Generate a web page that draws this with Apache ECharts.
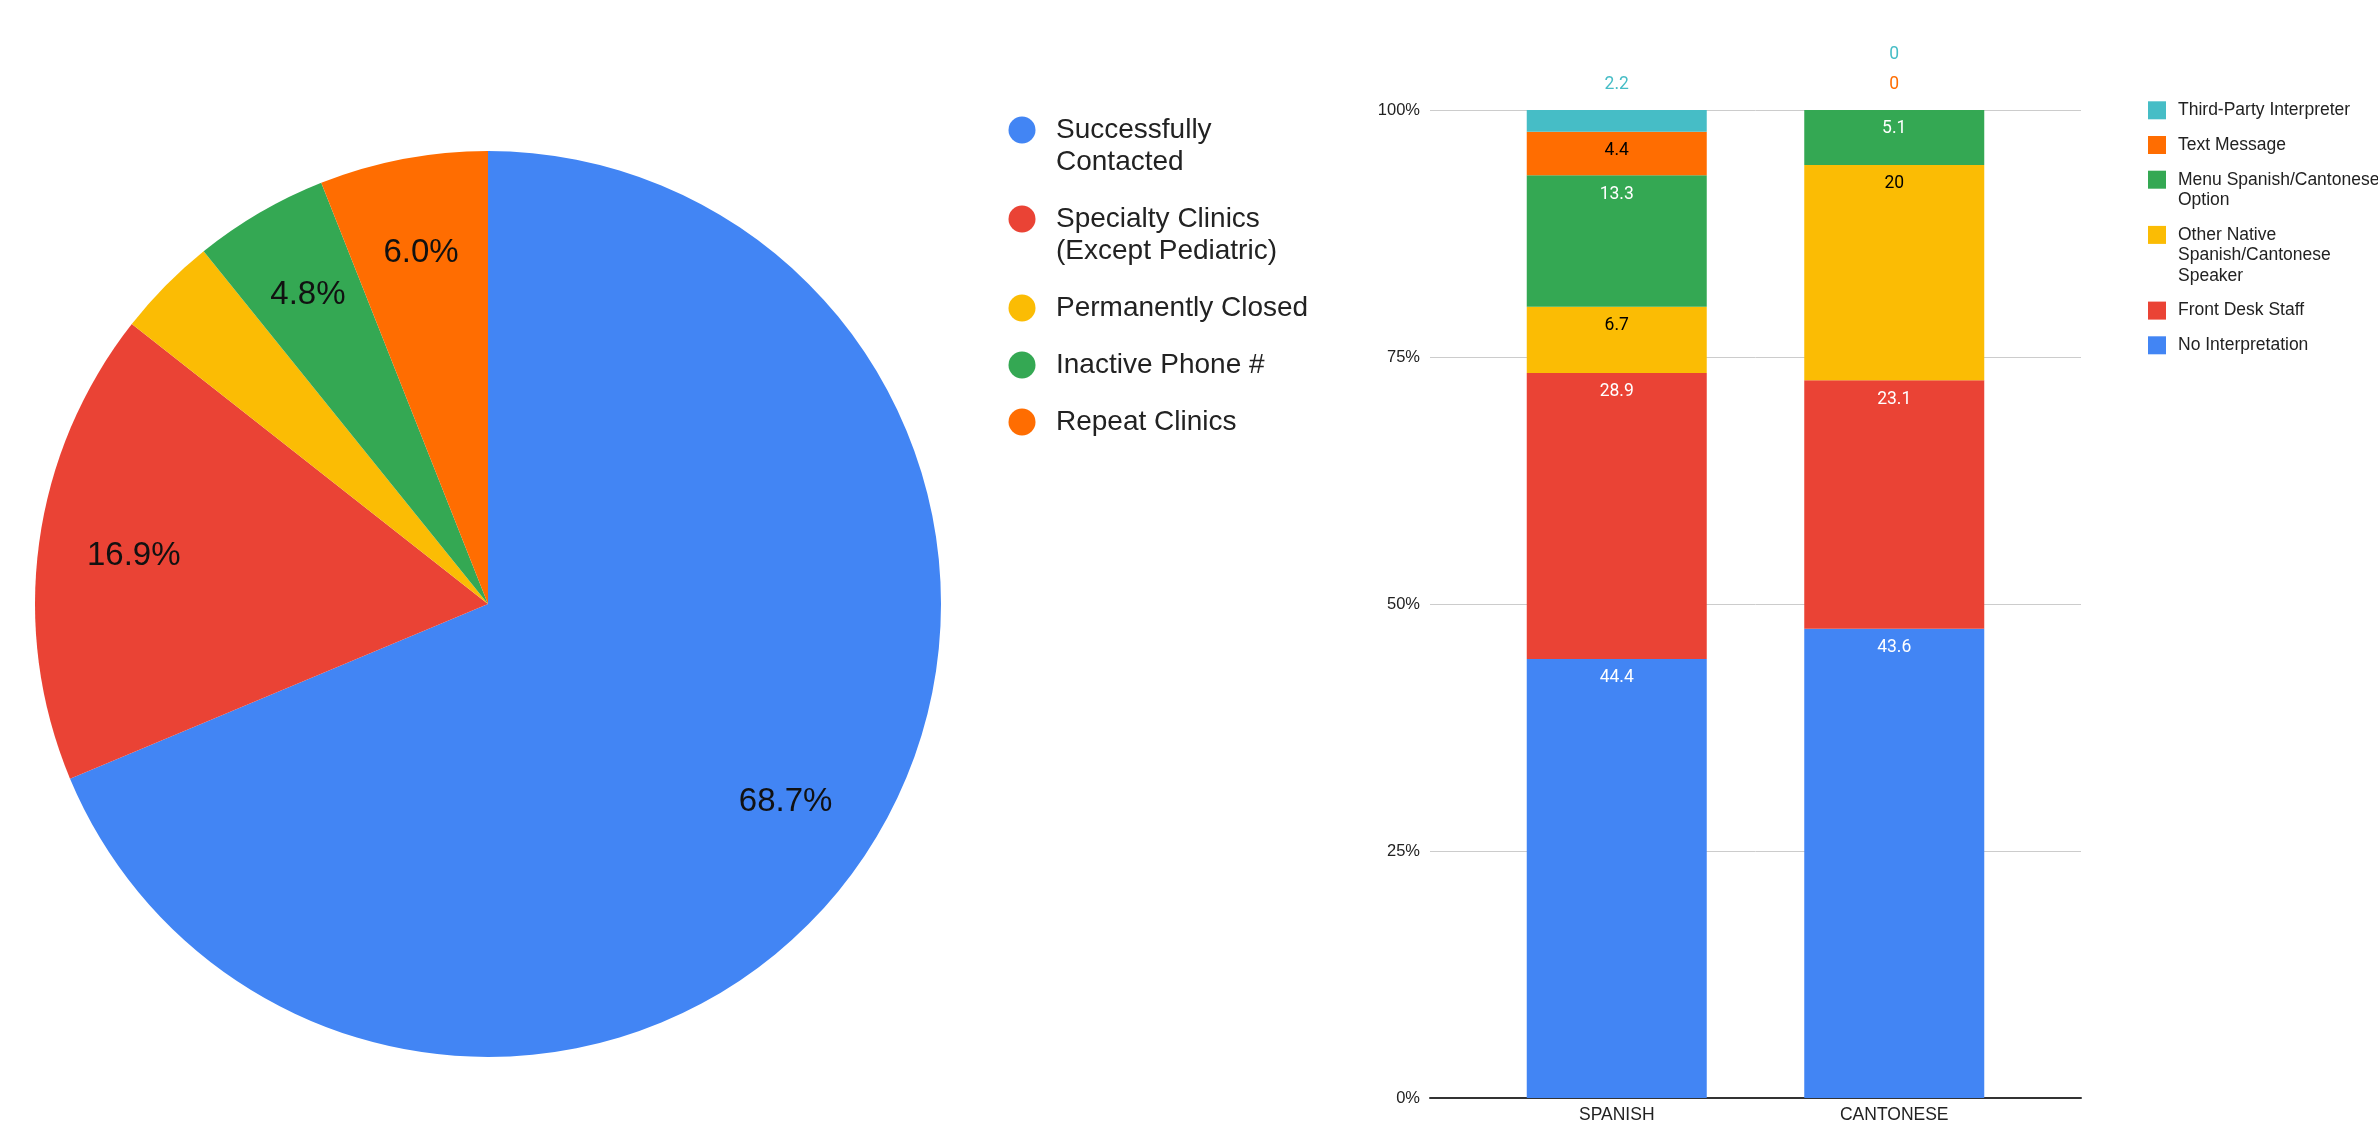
<!DOCTYPE html>
<html>
<head>
<meta charset="utf-8">
<title>Clinic outreach and interpretation methods</title>
<script src="https://cdn.jsdelivr.net/npm/echarts@6/dist/echarts.min.js"></script>
<style>
  html, body { margin: 0; padding: 0; background: #ffffff; }
  #chart { width: 2378px; height: 1123px; }
</style>
</head>
<body>
<div id="chart"></div>
<script>
// ---- Call outcomes (pie) ----
const outcomeNames = [
  'Successfully Contacted',
  'Specialty Clinics (Except Pediatric)',
  'Permanently Closed',
  'Inactive Phone #',
  'Repeat Clinics'
];
const outcomeLegendLines = [
  ['Successfully', 'Contacted'],
  ['Specialty Clinics', '(Except Pediatric)'],
  ['Permanently Closed'],
  ['Inactive Phone #'],
  ['Repeat Clinics']
];
const outcomeShares = [68.7, 16.9, 3.6, 4.8, 6.0];
const outcomeColors = ['#4285F4', '#EA4335', '#FBBC04', '#34A853', '#FF6D01'];

// ---- Interpretation method by language (100% stacked bars) ----
const languages = ['SPANISH', 'CANTONESE'];
const methodNames = [
  'No Interpretation',
  'Front Desk Staff',
  'Other Native Spanish/Cantonese Speaker',
  'Menu Spanish/Cantonese Option',
  'Text Message',
  'Third-Party Interpreter'
];
const methodLegendLines = [
  ['No Interpretation'],
  ['Front Desk Staff'],
  ['Other Native', 'Spanish/Cantonese', 'Speaker'],
  ['Menu Spanish/Cantonese', 'Option'],
  ['Text Message'],
  ['Third-Party Interpreter']
];
const noInterpretation = [44.4, 43.6];
const frontDeskStaff = [28.9, 23.1];
const otherNativeSpeaker = [6.7, 20];
const menuOption = [13.3, 5.1];
const textMessage = [4.4, 0];
const thirdPartyInterpreter = [2.2, 0];
const methodValues = [noInterpretation, frontDeskStaff, otherNativeSpeaker, menuOption, textMessage, thirdPartyInterpreter];
const methodColors = ['#4285F4', '#EA4335', '#FBBC04', '#34A853', '#FF6D01', '#46BDC6'];
const methodLabelColors = ['#ffffff', '#ffffff', '#000000', '#ffffff', '#000000', '#ffffff'];
const percentTicks = [0, 25, 50, 75, 100];

const SANS = "'Liberation Sans', Arial, Helvetica, sans-serif";
const LABEL_FONT = "Roboto, 'Liberation Sans', Arial, sans-serif";

// Each bar is shown as a share of its own total (100% stacked).
const totals = languages.map((_, ci) => methodValues.reduce((s, arr) => s + arr[ci], 0));
const shares = methodValues.map(arr => arr.map((v, ci) => v / totals[ci] * 100));

// Segments too thin for an inside label get it stacked above the bar instead.
const THIN_SEGMENT = 3;
const OUTSIDE_FIRST = 16;
const OUTSIDE_STEP = 29.4;
const outsideCount = languages.map(() => 0);
const runningTop = languages.map(() => 0);

const barSeries = methodNames.map((name, si) => {
  const outside = [];
  const data = shares[si].map((share, ci) => {
    runningTop[ci] += share;
    const item = { value: share, raw: methodValues[si][ci] };
    if (share < THIN_SEGMENT) {
      item.label = { show: false };
      outside.push({
        // keep the anchor inside the 0–100 axis extent despite float rounding
        coord: [languages[ci], Math.min(runningTop[ci], 100)],
        value: methodValues[si][ci],
        label: { distance: OUTSIDE_FIRST + OUTSIDE_STEP * outsideCount[ci] }
      });
      outsideCount[ci] += 1;
    }
    return item;
  });
  return {
    name: name,
    type: 'bar',
    stack: 'share',
    xAxisIndex: 1,
    yAxisIndex: 1,
    barWidth: 180,
    itemStyle: { color: methodColors[si] },
    label: {
      show: true,
      position: 'insideTop',
      distance: 10,
      color: methodLabelColors[si],
      fontFamily: LABEL_FONT,
      fontSize: 17.5,
      formatter: p => String(p.data.raw)
    },
    markPoint: {
      silent: true,
      symbol: 'circle',
      symbolSize: 1,
      itemStyle: { color: 'rgba(0,0,0,0)' },
      label: {
        show: true,
        position: 'top',
        color: methodColors[si],
        fontFamily: LABEL_FONT,
        fontSize: 17.5,
        formatter: p => String(p.value)
      },
      data: outside
    },
    data: data
  };
});

// Vertical legends whose marker lines up with the first text line of each entry:
// blank lines above the text keep the first line on the marker's centre.
function entryLegends(names, lines, o) {
  let center = o.firstCenter;
  return names.map((name, i) => {
    const n = lines[i].length;
    const text = '\n'.repeat(n - 1) + lines[i].join('\n');
    const legend = {
      left: o.left,
      top: center - (2 * n - 1) * o.lineHeight / 2,
      orient: 'vertical',
      padding: 0,
      itemGap: 0,
      icon: o.icon,
      itemWidth: o.iconW,
      itemHeight: o.iconH,
      selectedMode: false,
      data: [name],
      formatter: () => text,
      textStyle: {
        fontFamily: SANS,
        fontSize: o.fontSize,
        lineHeight: o.lineHeight,
        color: '#222222',
        padding: [0, 0, 0, o.textPad],
        backgroundColor: 'transparent'
      }
    };
    center += n * o.lineHeight + o.gap;
    return legend;
  });
}

const pieLegends = entryLegends(outcomeNames, outcomeLegendLines, {
  left: 1008.5, firstCenter: 130, lineHeight: 32, gap: 25,
  icon: 'circle', iconW: 58, iconH: 27, fontSize: 28, textPad: 0
});

const barOrder = methodNames.map((_, i) => i).reverse();
const barLegends = entryLegends(
  barOrder.map(i => methodNames[i]),
  barOrder.map(i => methodLegendLines[i]),
  {
    left: 2148, firstCenter: 110.3, lineHeight: 20.5, gap: 14.2,
    icon: 'rect', iconW: 18, iconH: 18, fontSize: 17.5, textPad: 7
  }
);

const option = {
  animation: false,
  backgroundColor: '#ffffff',
  legend: pieLegends.concat(barLegends),
  grid: [
    // frame carrying the percent ticks, grid lines and baseline
    { left: 1430, right: 297, top: 110, bottom: 25, outerBoundsMode: 'none', containLabel: false },
    // the two language bars
    { left: 1478, width: 555, top: 110, bottom: 25, outerBoundsMode: 'none', containLabel: false }
  ],
  xAxis: [
    {
      gridIndex: 0,
      type: 'category',
      data: [''],
      axisLine: { show: true, lineStyle: { color: '#333333', width: 2 } },
      axisTick: { show: false },
      axisLabel: { show: false },
      splitLine: { show: false }
    },
    {
      gridIndex: 1,
      type: 'category',
      data: languages,
      axisLine: { show: false },
      axisTick: { show: false },
      axisLabel: { color: '#222222', fontFamily: SANS, fontSize: 17.5, margin: 8 },
      splitLine: { show: false }
    }
  ],
  yAxis: [
    {
      gridIndex: 0,
      type: 'value',
      min: percentTicks[0],
      max: percentTicks[percentTicks.length - 1],
      interval: percentTicks[1] - percentTicks[0],
      axisLine: { show: false },
      axisTick: { show: false },
      axisLabel: { color: '#222222', fontFamily: SANS, fontSize: 16.5, margin: 10, formatter: '{value}%' },
      splitLine: { show: true, lineStyle: { color: '#cccccc', width: 1 } }
    },
    {
      gridIndex: 1,
      type: 'value',
      min: 0,
      max: 100,
      show: false,
      splitLine: { show: false }
    }
  ],
  series: [
    {
      name: 'Outcome',
      type: 'pie',
      center: [488, 604],
      radius: 453,
      startAngle: 90,
      clockwise: true,
      avoidLabelOverlap: false,
      label: { show: false },
      labelLine: { show: false },
      emphasis: { disabled: true },
      data: outcomeNames.map((name, i) => ({ name: name, value: outcomeShares[i], itemStyle: { color: outcomeColors[i] } }))
    },
    {
      // transparent ring that carries the percentage labels
      name: 'Outcome labels',
      type: 'pie',
      center: [488, 604],
      radius: [256, 453],
      startAngle: 90,
      clockwise: true,
      silent: true,
      avoidLabelOverlap: false,
      minShowLabelAngle: 15,
      itemStyle: { color: 'rgba(0,0,0,0)' },
      label: {
        show: true,
        position: 'inside',
        color: '#111111',
        fontFamily: SANS,
        fontSize: 33,
        formatter: p => p.value.toFixed(1) + '%'
      },
      labelLine: { show: false },
      emphasis: { disabled: true },
      data: outcomeNames.map((name, i) => ({ name: name, value: outcomeShares[i] }))
    }
  ].concat(barSeries)
};

const chart = echarts.init(document.getElementById('chart'));
chart.setOption(option);
</script>
</body>
</html>
